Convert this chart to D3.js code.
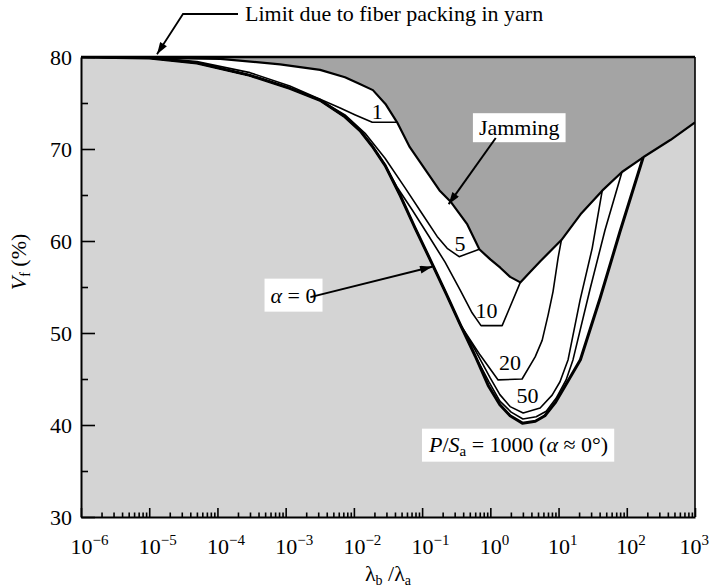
<!DOCTYPE html>
<html>
<head>
<meta charset="utf-8">
<script src="https://cdn.jsdelivr.net/npm/d3@7"></script>
<style>
  body { margin: 0; background: #fff; }
  svg, svg text { font-family: "Liberation Serif", "Times New Roman", serif; fill: #000; }
</style>
</head>
<body>
<svg id="chart" width="711" height="588" font-family="Liberation Serif"></svg>
<script>
// x = lambda_b / lambda_a, v = Vf (%)
const jamX = [1e-6, 1e-5, 1.1e-4, 8.3e-4, 3.2e-3, 7.4e-3, 0.012, 0.019, 0.029, 0.043, 0.066, 0.12, 0.18, 0.26, 0.46, 0.69, 1.0, 1.4, 1.95, 2.75, 3.8, 5.4, 11, 21, 44, 85, 174, 440, 1000];
const jamV = [80, 79.9, 79.8, 79.2, 78.6, 77.8, 77.1, 76.4, 74.9, 72.9, 70.2, 67.4, 65.5, 64.3, 61.8, 59.1, 58.0, 57.1, 56.1, 55.5, 56.6, 57.8, 60.1, 62.9, 65.5, 67.5, 69.1, 71.0, 72.9];

const p1X = [1e-6, 1e-5, 5e-5, 3e-4, 1.15e-3, 3.2e-3, 6.3e-3, 0.0105, 0.0186, 0.043];
const p1V = [80, 79.95, 79.5, 78.3, 76.85, 75.4, 74.45, 73.7, 72.9, 72.9];

const p5X = [1e-6, 1e-5, 5e-5, 3e-4, 1.15e-3, 3.2e-3, 7.4e-3, 0.0146, 0.0286, 0.056, 0.1035, 0.166, 0.233, 0.349, 0.69];
const p5V = [80, 79.9, 79.35, 78.0, 76.6, 75.3, 73.7, 71.7, 69.0, 65.8, 62.8, 60.5, 59.2, 58.3, 59.1];

const p10X = [1e-6, 1e-5, 5e-5, 3e-4, 1.15e-3, 3.2e-3, 7.4e-3, 0.0123, 0.0186, 0.0288, 0.0426, 0.0713, 0.1225, 0.217, 0.36, 0.54, 0.73, 1.49, 2.75];
const p10V = [80, 79.9, 79.35, 78.0, 76.6, 75.3, 73.5, 72.0, 70.3, 68.2, 65.9, 63.4, 60.65, 57.7, 54.7, 52.2, 50.8, 50.8, 55.5];

const p20X = [1e-6, 1e-5, 5e-5, 3e-4, 1.15e-3, 3.2e-3, 7.4e-3, 0.0123, 0.0186, 0.0288, 0.048, 0.079, 0.145, 0.234, 0.363, 0.71, 1.30, 2.92, 4.54, 5.75, 7.05, 8.3, 9.86, 11];
const p20V = [80, 79.9, 79.35, 78.0, 76.6, 75.3, 73.5, 72.0, 70.3, 68.2, 64.9, 61.4, 57.3, 54.0, 50.9, 47.6, 44.9, 45.0, 47.4, 49.2, 52.0, 54.5, 58.2, 60.1];

const p50X = [1e-6, 1e-5, 5e-5, 3e-4, 1.15e-3, 3.2e-3, 7.4e-3, 0.0123, 0.0186, 0.0288, 0.048, 0.079, 0.145, 0.234, 0.363, 0.60, 1.0, 1.38, 1.95, 3.03, 5.37, 8.05, 10.5, 13.8, 20.7, 31.1, 43.7];
const p50V = [80, 79.9, 79.35, 78.0, 76.6, 75.3, 73.5, 72.0, 70.3, 68.2, 64.9, 61.4, 57.3, 54.0, 50.9, 48.15, 45.1, 43.3, 42.0, 41.3, 41.85, 43.25, 44.7, 47.1, 53.6, 59.2, 65.5];

const p1000X = [1e-6, 1e-5, 5e-5, 3e-4, 1.15e-3, 3.2e-3, 7.4e-3, 0.0123, 0.0186, 0.0288, 0.048, 0.079, 0.145, 0.234, 0.363, 0.60, 0.96, 1.38, 2.02, 3.0, 4.7, 6.6, 9.2, 12.9, 16.3, 28.8, 48, 85];
const p1000V = [80, 79.9, 79.35, 78.0, 76.6, 75.3, 73.5, 72.0, 70.3, 68.2, 64.9, 61.4, 57.3, 54.0, 50.9, 47.5, 44.67, 42.6, 41.4, 40.65, 40.9, 41.5, 42.9, 44.9, 47.1, 54.7, 61.2, 67.5];

const a0X = [1e-6, 1e-5, 5e-5, 3e-4, 1.15e-3, 3.2e-3, 7.4e-3, 0.0123, 0.0186, 0.0288, 0.048, 0.079, 0.145, 0.234, 0.363, 0.60, 0.93, 1.38, 1.95, 2.95, 4.57, 6.3, 8.9, 12.6, 20.9, 40.7, 79.4, 174];
const a0V = [80, 79.9, 79.35, 78.0, 76.6, 75.3, 73.5, 72.0, 70.3, 68.2, 64.9, 61.4, 57.3, 54.0, 50.9, 47.5, 44.3, 42.2, 41.0, 40.2, 40.4, 41.0, 42.4, 44.3, 47.1, 53.8, 61.0, 69.1];

// curve labels: text, x, v at baseline
const curveLabels = [["1", 0.022, 73.3], ["5", 0.36, 58.9], ["10", 0.88, 51.6], ["20", 1.95, 46.0], ["50", 3.5, 42.4]];

const decades = [1e-6, 1e-5, 1e-4, 1e-3, 1e-2, 1e-1, 1, 10, 100, 1000];
const decadeExp = ["\u22126", "\u22125", "\u22124", "\u22123", "\u22122", "\u22121", "0", "1", "2", "3"];
const yTicks = [30, 40, 50, 60, 70, 80];
const yMinor = [35, 45, 55, 65, 75];

const FS = 22;
const svg = d3.select("#chart");
const x = d3.scaleLog().domain([1e-6, 1e3]).range([81, 695]);
const y = d3.scaleLinear().domain([30, 80]).range([517, 57]);

const pts = (xs, vs) => xs.map((d, i) => [d, vs[i]]);
const line = d3.line().x(d => x(d[0])).y(d => y(d[1]));

const defs = svg.append("defs");
defs.append("clipPath").attr("id", "plot")
    .append("rect")
    .attr("x", x(1e-6)).attr("y", y(80))
    .attr("width", x(1e3) - x(1e-6)).attr("height", y(30) - y(80));
defs.append("marker")
    .attr("id", "arrow")
    .attr("viewBox", "0 0 12 8")
    .attr("refX", 12).attr("refY", 4)
    .attr("markerWidth", 14).attr("markerHeight", 8)
    .attr("markerUnits", "userSpaceOnUse")
    .attr("orient", "auto")
    .append("path").attr("d", "M0,0 L12,4 L0,8 z").attr("fill", "#000");

const plot = svg.append("g").attr("clip-path", "url(#plot)");

// light background
plot.append("rect")
    .attr("x", x(1e-6)).attr("y", y(80))
    .attr("width", x(1e3) - x(1e-6)).attr("height", y(30) - y(80))
    .attr("fill", "#d4d4d4");

// white band between the alpha = 0 curve and the jamming limit
const jam = pts(jamX, jamV);
const a0 = pts(a0X, a0V);
const band = a0.concat(jam.filter(d => d[0] <= a0X[a0X.length - 1]).reverse());
plot.append("path").attr("d", line(band) + "Z").attr("fill", "#fff");

// jamming region
const jamRegion = jam.concat([[1e3, 80], [1e-6, 80]]);
plot.append("path").attr("d", line(jamRegion) + "Z").attr("fill", "#a4a4a4");

// curves
const curves = [
    [p1X, p1V, 1.6], [p5X, p5V, 1.6], [p10X, p10V, 1.6], [p20X, p20V, 1.6],
    [p50X, p50V, 1.6], [p1000X, p1000V, 1.6], [a0X, a0V, 3], [jamX, jamV, 2.2]
];
plot.selectAll("path.curve")
    .data(curves)
    .enter()
    .append("path")
    .classed("curve", true)
    .attr("d", d => line(pts(d[0], d[1])))
    .attr("fill", "none")
    .attr("stroke", "#000")
    .attr("stroke-width", d => d[2])
    .attr("stroke-linejoin", "round");

svg.selectAll("text.clabel")
    .data(curveLabels)
    .enter()
    .append("text")
    .classed("clabel", true)
    .attr("x", d => x(d[1]))
    .attr("y", d => y(d[2]))
    .attr("text-anchor", "middle")
    .attr("font-size", FS)
    .text(d => d[0]);

// axes
const gx = svg.append("g")
    .attr("transform", `translate(0,${y(30)})`)
    .call(d3.axisBottom(x).tickValues(decades).tickSize(-9).tickSizeOuter(0).tickFormat(""));
gx.selectAll(".tick text")
    .attr("y", 37).attr("dy", null)
    .attr("x", (d, i) => (i === decades.length - 1 ? -16 : -11))
    .attr("text-anchor", "start")
    .attr("font-size", FS)
    .each(function (d, i) {
        const t = d3.select(this);
        t.append("tspan").text("10");
        t.append("tspan").attr("dy", -9).attr("font-size", 15).text(decadeExp[i]);
    });

const minorX = x.ticks().filter(d => Math.abs(Math.log10(d) - Math.round(Math.log10(d))) > 1e-6);
svg.append("g")
    .attr("transform", `translate(0,${y(30)})`)
    .call(d3.axisBottom(x).tickValues(minorX).tickSize(-4.5).tickSizeOuter(0).tickFormat(""))
    .select(".domain").remove();

const gy = svg.append("g")
    .attr("transform", `translate(${x(1e-6)},0)`)
    .call(d3.axisLeft(y).tickValues(yTicks).tickSize(-14).tickSizeOuter(0).tickPadding(9));
gy.selectAll(".tick text").attr("font-size", FS);

svg.append("g")
    .attr("transform", `translate(${x(1e-6)},0)`)
    .call(d3.axisLeft(y).tickValues(yMinor).tickSize(-7).tickSizeOuter(0).tickFormat(""))
    .select(".domain").remove();

svg.selectAll("g").attr("font-family", null).attr("font-size", null);
svg.selectAll(".domain").attr("stroke-width", 2);
svg.selectAll(".tick line").attr("stroke-width", 1.6);

// frame: top and right
svg.append("line")
    .attr("x1", x(1e-6)).attr("x2", x(1e3)).attr("y1", y(80)).attr("y2", y(80))
    .attr("stroke", "#000").attr("stroke-width", 2.6);
svg.append("line")
    .attr("x1", x(1e3)).attr("x2", x(1e3)).attr("y1", y(80)).attr("y2", y(30))
    .attr("stroke", "#000").attr("stroke-width", 1.6);

// boxed labels
function boxed(tx, ty, build, pad) {
    const g = svg.append("g");
    const r = g.append("rect").attr("fill", "#fff");
    const t = g.append("text").attr("x", tx).attr("y", ty).attr("font-size", FS);
    build(t);
    const b = t.node().getBBox();
    r.attr("x", b.x - pad[0]).attr("y", b.y - pad[1])
        .attr("width", b.width + 2 * pad[0]).attr("height", b.height + 2 * pad[1]);
}

boxed(x(0.68), y(71.5), t => t.text("Jamming"), [6, 2]);
boxed(x(6e-4), y(53.3), t => {
    t.append("tspan").attr("font-style", "italic").text("\u03b1");
    t.append("tspan").text(" = 0");
}, [6, 4]);
boxed(x(0.126), y(37.1), t => {
    t.append("tspan").attr("font-style", "italic").text("P");
    t.append("tspan").text("/");
    t.append("tspan").attr("font-style", "italic").text("S");
    t.append("tspan").attr("font-size", 15).attr("dy", 4).text("a");
    t.append("tspan").attr("dy", -4).text(" = 1000 (");
    t.append("tspan").attr("font-style", "italic").text("\u03b1");
    t.append("tspan").text(" \u2248 0\u00b0)");
}, [6, 3]);

// arrows
const arrow = d3.line();
svg.append("path")
    .attr("d", arrow([[x(1.2), y(71.2)], [x(0.245), y(64.0)]]))
    .attr("fill", "none").attr("stroke", "#000").attr("stroke-width", 2)
    .attr("marker-end", "url(#arrow)");
svg.append("path")
    .attr("d", arrow([[x(2.3e-3), y(53.9)], [x(0.14), y(57.2)]]))
    .attr("fill", "none").attr("stroke", "#000").attr("stroke-width", 2)
    .attr("marker-end", "url(#arrow)");
svg.append("path")
    .attr("d", arrow([[238, 14], [183, 14], [x(1.3e-5), y(80.3)]]))
    .attr("fill", "none").attr("stroke", "#000").attr("stroke-width", 1.8)
    .attr("marker-end", "url(#arrow)");

svg.append("text")
    .attr("x", 245).attr("y", 21)
    .attr("font-size", FS)
    .text("Limit due to fiber packing in yarn");

// axis titles
const yl = svg.append("text")
    .attr("transform", "translate(26,262) rotate(-90)")
    .attr("text-anchor", "middle")
    .attr("font-size", FS);
yl.append("tspan").attr("font-style", "italic").text("V");
yl.append("tspan").attr("font-size", 14).attr("dy", 4).text("f");
yl.append("tspan").attr("dy", -4).text(" (%)");

const xl = svg.append("text")
    .attr("x", (x(1e-6) + x(1e3)) / 2).attr("y", 581)
    .attr("text-anchor", "middle")
    .attr("font-size", FS);
xl.append("tspan").text("\u03bb");
xl.append("tspan").attr("font-size", 14).attr("dy", 4).text("b");
xl.append("tspan").attr("dy", -4).text(" /\u03bb");
xl.append("tspan").attr("font-size", 14).attr("dy", 4).text("a");
</script>
</body>
</html>
